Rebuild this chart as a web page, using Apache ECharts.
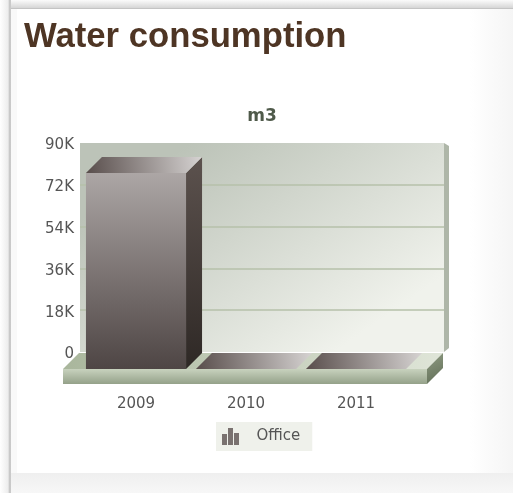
<!DOCTYPE html>
<html>
<head>
<meta charset="utf-8">
<title>Water consumption</title>
<script src="https://cdn.jsdelivr.net/npm/echarts@6/dist/echarts.min.js"></script>
<style>
html,body{margin:0;padding:0;width:513px;height:493px;overflow:hidden;background:#fff;}
#page{position:absolute;left:0;top:0;width:513px;height:493px;
  background:linear-gradient(90deg,#fff 0,#fff 470px,#f5f5f5 513px);}
#top{position:absolute;left:0;top:0;width:513px;height:9px;background:linear-gradient(180deg,#fbfbfb,#d6d6d6);border-bottom:1px solid #c4c4c4;box-sizing:border-box;}
#left{position:absolute;left:0;top:0;width:11px;height:493px;background:linear-gradient(90deg,#fff,#ededed 8px,#bdbdbd 10px,#d6d6d6 11px);}
#bottom{position:absolute;left:11px;top:473px;width:502px;height:20px;background:linear-gradient(180deg,#efefef,#f7f7f7);}
#side{position:absolute;left:11px;top:9px;width:6px;height:464px;background:#f9f9f9;}
#chart{position:absolute;left:0;top:0;width:513px;height:493px;}
</style>
</head>
<body>
<div id="page"><div id="top"></div><div id="side"></div><div id="bottom"></div><div id="left"></div></div>
<div id="chart"></div>
<script>
var categories=['2009','2010','2011'];
var officeValues=[84000,0,0];
var legendNames=['Office'];

var depth=16;
var myChart=echarts.init(document.getElementById('chart'),null,{renderer:'canvas'});

function grad(x,y,x2,y2,c1,c2){
    return new echarts.graphic.LinearGradient(x,y,x2,y2,[{offset:0,color:c1},{offset:1,color:c2}]);
}

// the box for one bar, front face is on grid 1, top and side go back by depth
function renderBar(params,api){
    var top=api.coord([api.value(0),api.value(1)]);
    var bottom=api.coord([api.value(0),0]);
    var w=api.size([1,0])[0]*0.91;
    var x0=top[0]-w/2,x1=top[0]+w/2;
    return {type:'group',children:[
        {type:'rect',shape:{x:x0,y:top[1],width:w,height:bottom[1]-top[1]},
            style:{fill:grad(0,0,0,1,'#aca6a5','#4e4544')}},
        {type:'polygon',shape:{points:[[x1,top[1]],[x1+depth,top[1]-depth],[x1+depth,bottom[1]-depth],[x1,bottom[1]]]},
            style:{fill:grad(0,0,0,1,'#5c524e','#2e2825')}},
        {type:'polygon',shape:{points:[[x0,top[1]],[x1,top[1]],[x1+depth,top[1]-depth],[x0+depth,top[1]-depth]]},
            style:{fill:grad(0,1,1,0,'#584d4b','#d6d3d2')}}
    ]};
}

// floor slab under the bars
function renderFloor(params,api){
    var c=params.coordSys;
    var y=api.coord([0,0])[1];
    var x0=c.x-18,x1=c.x+c.width+16;
    return {type:'group',children:[
        {type:'polygon',shape:{points:[[x0,y],[x1,y],[x1+depth,y-depth],[x0+depth,y-depth]]},
            style:{fill:grad(0,1,1,0,'#a9b69c','#dfe5d8')}},
        {type:'rect',shape:{x:x0,y:y,width:x1-x0,height:15},
            style:{fill:grad(0,0,0,1,'#c8d2be','#94a189')}},
        {type:'polygon',shape:{points:[[x1,y],[x1+depth,y-depth],[x1+depth,y-1],[x1,y+15]]},
            style:{fill:grad(0,0,1,1,'#8f9c83','#5f6c55')}}
    ]};
}

// thin darker edge on the right of the back wall
function renderEdge(params,api){
    var c=params.coordSys;
    return {type:'polygon',shape:{points:[[c.x+c.width,c.y],[c.x+c.width+5,c.y+3],[c.x+c.width+5,c.y+c.height-4],[c.x+c.width,c.y+c.height]]},
        style:{fill:'#aeb6a8'}};
}

var option={
    animation:false,
    backgroundColor:'transparent',
    title:[
        {text:'Water consumption',left:19,top:15,textStyle:{fontFamily:'Liberation Sans',fontSize:34.7,fontWeight:'bold',color:'#4e3524'}},
        {text:'m3',left:257,top:103,textAlign:'center',textStyle:{fontFamily:'DejaVu Sans',fontSize:17,fontWeight:'bold',color:'#4f5a4a'}}
    ],
    legend:{
        data:legendNames,left:216,top:422,orient:'horizontal',
        backgroundColor:'#eff1eb',padding:[6,12,6,6],
        itemWidth:18,itemHeight:17,
        icon:'path://M0,6H5V17H0ZM6,0H11V17H6ZM12,5H17V17H12Z',
        itemStyle:{color:'#7a7270'},
        textStyle:{fontFamily:'DejaVu Sans',fontSize:15,color:'#555',padding:[1,0,0,12]}
    },
    grid:[
        {left:80,top:143,width:364,height:209,show:true,borderWidth:0,
            backgroundColor:grad(0.3,0,0.7,1,'#bcc3b8','#f0f2ec')},
        {left:81,top:159,width:330,height:210,show:false}
    ],
    xAxis:[
        {gridIndex:0,type:'category',data:categories,show:false},
        {gridIndex:1,type:'category',data:categories,
            axisLine:{show:false},axisTick:{show:false},
            axisLabel:{margin:28,fontFamily:'DejaVu Sans',fontSize:15,color:'#555'}}
    ],
    yAxis:[
        {gridIndex:0,type:'value',min:0,max:90000,interval:18000,
            axisLine:{show:false},axisTick:{show:false},
            axisLabel:{margin:6,verticalAlign:'top',lineHeight:5,fontFamily:'DejaVu Sans',fontSize:15,color:'#555',
                formatter:function(v){return v==0?'0':(v/1000)+'K';}},
            splitLine:{show:true,showMinLine:false,showMaxLine:false,lineStyle:{color:'#b6c1aa',width:1.5}}},
        {gridIndex:1,type:'value',min:0,max:90000,show:false,splitLine:{show:false}}
    ],
    series:[
        {name:'edge',type:'custom',xAxisIndex:0,yAxisIndex:0,data:[0],renderItem:renderEdge,silent:true},
        {name:'floor',type:'custom',xAxisIndex:1,yAxisIndex:1,data:[0],renderItem:renderFloor,silent:true},
        {name:'Office',type:'custom',xAxisIndex:1,yAxisIndex:1,renderItem:renderBar,
            itemStyle:{color:'#6a6160'},
            encode:{x:0,y:1},
            data:officeValues.map(function(v,i){return [i,v];})}
    ]
};
myChart.setOption(option);
</script>
</body>
</html>
